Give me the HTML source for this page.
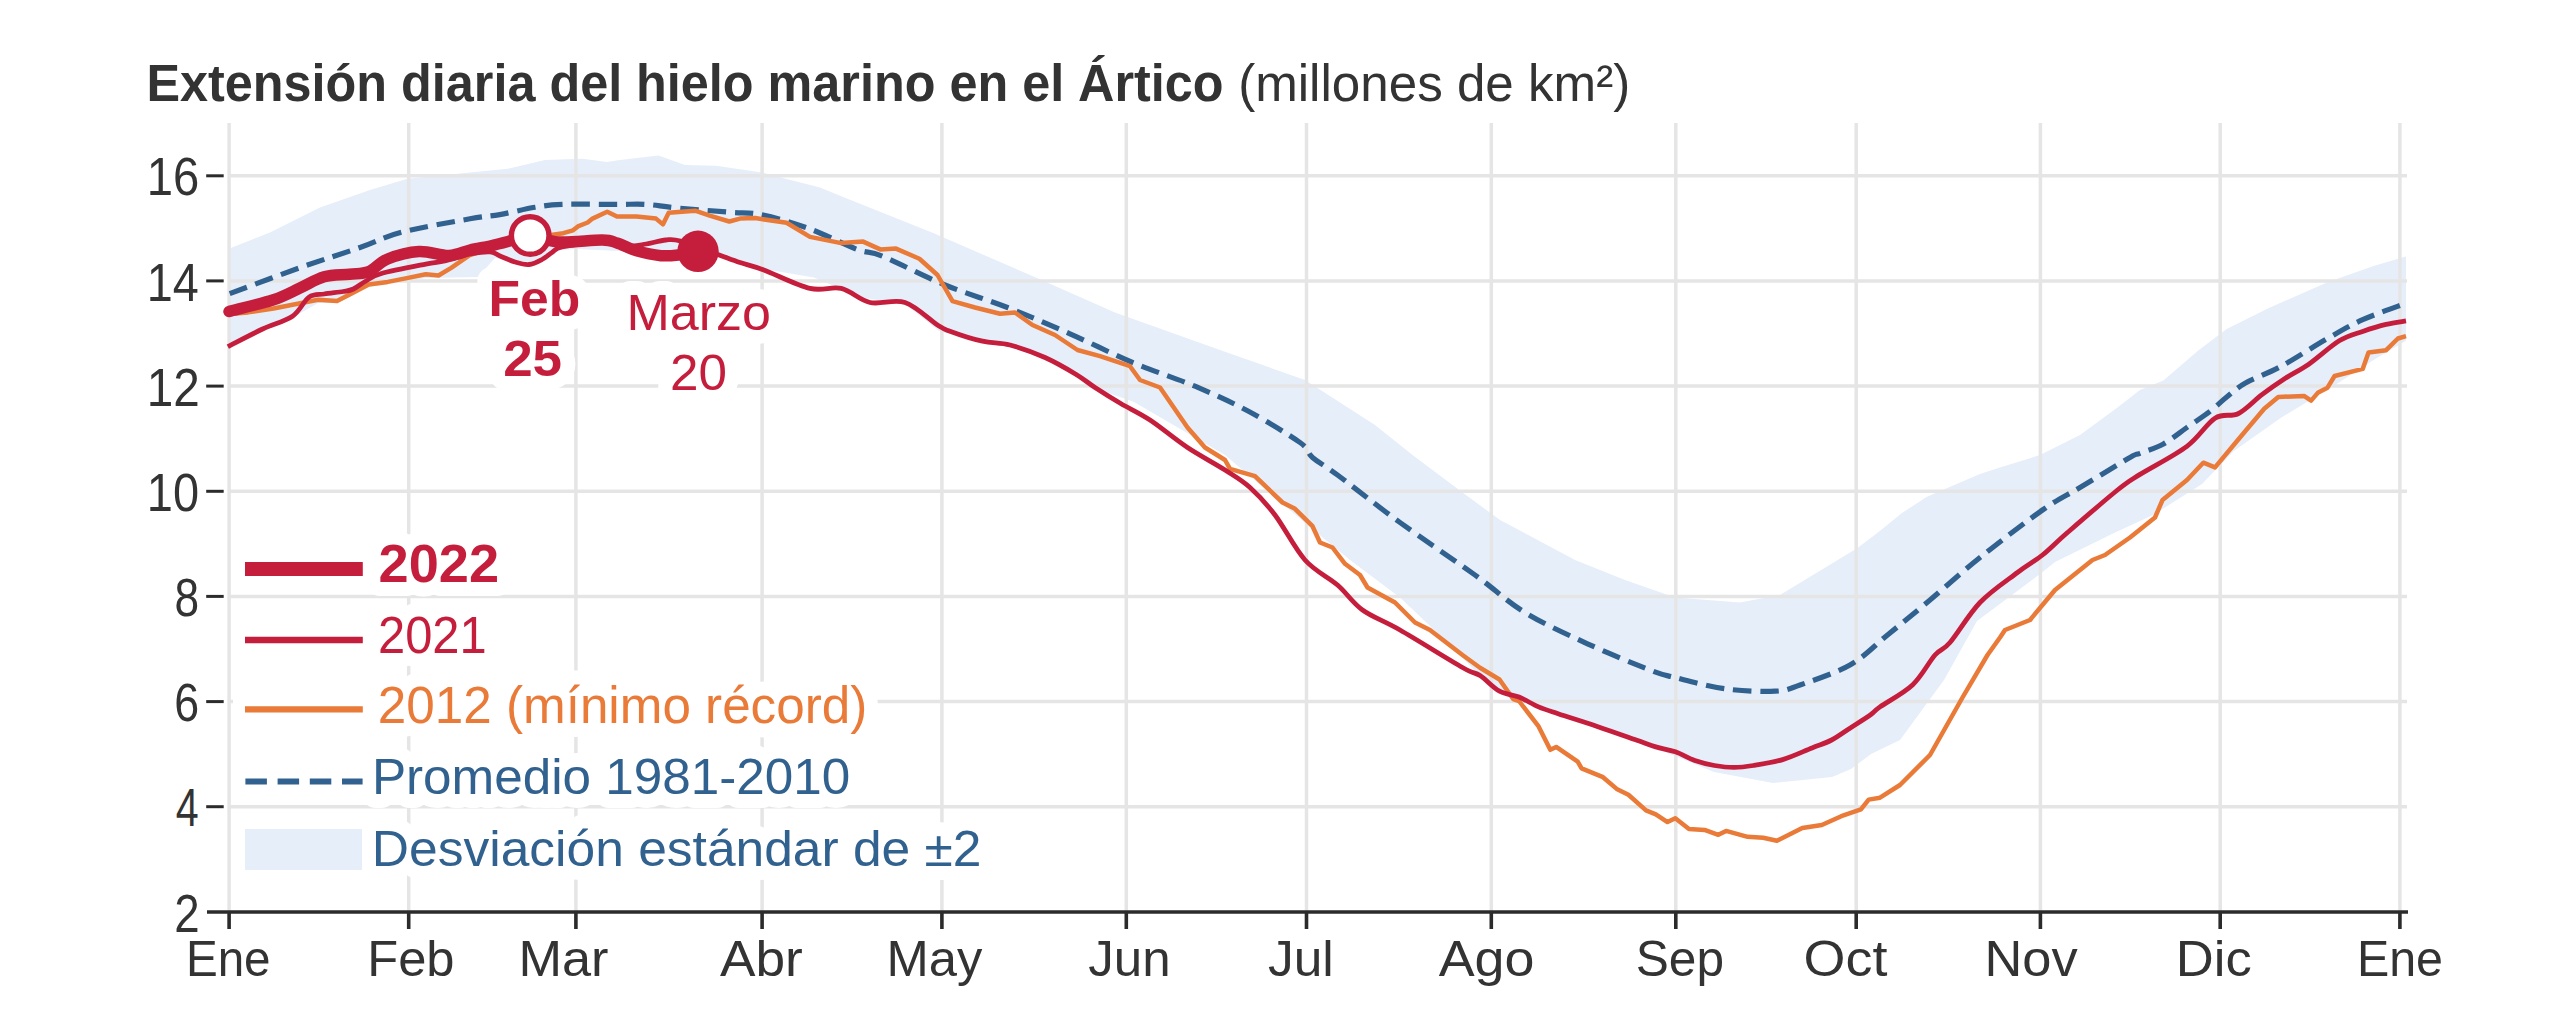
<!DOCTYPE html><html><head><meta charset="utf-8"><style>html,body{margin:0;padding:0;background:#fff;width:2560px;height:1024px;overflow:hidden}svg{display:block}</style></head><body>
<svg width="2560" height="1024" viewBox="0 0 2560 1024" font-family='"Liberation Sans", sans-serif'>
<rect width="2560" height="1024" fill="#fff"/>
<polygon points="229.0,248.8 270.0,232.5 320.0,207.5 370.0,190.0 407.5,178.8 470.0,172.5 507.5,168.8 545.0,160.0 582.5,158.8 606.9,161.9 620.0,160.0 658.4,155.6 685.0,165.0 716.2,165.8 745.0,170.0 763.1,172.8 786.6,179.0 820.0,187.5 841.2,196.2 888.1,215.0 935.0,233.8 1036.9,278.0 1115.0,312.5 1220.0,350.0 1305.0,380.0 1375.0,425.0 1412.5,455.0 1462.5,492.5 1500.0,520.0 1575.0,560.0 1625.0,580.0 1675.0,597.5 1740.0,602.5 1780.0,595.0 1857.5,548.0 1878.6,532.0 1902.0,513.0 1927.0,496.7 1949.0,487.3 1980.0,474.0 2000.0,467.5 2040.0,455.0 2080.0,435.0 2117.5,407.5 2140.0,390.0 2163.4,380.6 2198.6,350.2 2226.7,329.0 2268.9,308.0 2327.5,282.2 2374.4,265.8 2406.0,256.4 2406.0,340.8 2374.4,359.5 2334.6,385.3 2280.6,418.0 2233.8,451.0 2202.0,484.0 2153.0,515.0 2114.0,533.0 2055.0,562.0 2040.0,574.0 1977.0,621.0 1944.0,680.0 1900.0,740.0 1871.0,754.0 1851.0,769.0 1832.0,777.0 1773.0,783.0 1714.0,772.0 1675.0,756.0 1640.0,742.0 1600.0,728.0 1540.0,708.0 1500.0,692.0 1480.0,676.0 1450.0,645.0 1400.0,597.5 1350.0,560.0 1307.5,525.0 1225.0,455.0 1134.0,402.0 1100.0,390.0 1075.0,376.0 1045.0,359.0 1010.0,347.0 982.0,343.0 939.0,331.0 905.0,304.0 865.0,298.0 841.0,289.0 814.0,277.5 762.0,268.8 740.0,262.0 716.0,252.0 680.0,258.0 640.0,252.0 577.0,249.0 560.0,250.0 530.0,262.0 495.0,258.0 478.0,277.0 426.0,278.0 407.0,281.0 388.0,284.0 369.0,287.0 350.0,297.0 337.0,303.0 318.0,303.0 292.0,318.0 229.0,347.0" fill="#e6eef9"/>
<line x1="229" y1="806.7" x2="2407" y2="806.7" stroke="#e5e5e5" stroke-width="3.5"/>
<line x1="229" y1="701.6" x2="2407" y2="701.6" stroke="#e5e5e5" stroke-width="3.5"/>
<line x1="229" y1="596.4" x2="2407" y2="596.4" stroke="#e5e5e5" stroke-width="3.5"/>
<line x1="229" y1="491.3" x2="2407" y2="491.3" stroke="#e5e5e5" stroke-width="3.5"/>
<line x1="229" y1="386.1" x2="2407" y2="386.1" stroke="#e5e5e5" stroke-width="3.5"/>
<line x1="229" y1="280.9" x2="2407" y2="280.9" stroke="#e5e5e5" stroke-width="3.5"/>
<line x1="229" y1="175.8" x2="2407" y2="175.8" stroke="#e5e5e5" stroke-width="3.5"/>
<line x1="229.1" y1="123" x2="229.1" y2="912" stroke="#e5e5e5" stroke-width="3.5"/>
<line x1="408.7" y1="123" x2="408.7" y2="912" stroke="#e5e5e5" stroke-width="3.5"/>
<line x1="575.9" y1="123" x2="575.9" y2="912" stroke="#e5e5e5" stroke-width="3.5"/>
<line x1="762.1" y1="123" x2="762.1" y2="912" stroke="#e5e5e5" stroke-width="3.5"/>
<line x1="941.9" y1="123" x2="941.9" y2="912" stroke="#e5e5e5" stroke-width="3.5"/>
<line x1="1126.3" y1="123" x2="1126.3" y2="912" stroke="#e5e5e5" stroke-width="3.5"/>
<line x1="1306.5" y1="123" x2="1306.5" y2="912" stroke="#e5e5e5" stroke-width="3.5"/>
<line x1="1491.3" y1="123" x2="1491.3" y2="912" stroke="#e5e5e5" stroke-width="3.5"/>
<line x1="1675.8" y1="123" x2="1675.8" y2="912" stroke="#e5e5e5" stroke-width="3.5"/>
<line x1="1856.2" y1="123" x2="1856.2" y2="912" stroke="#e5e5e5" stroke-width="3.5"/>
<line x1="2040.4" y1="123" x2="2040.4" y2="912" stroke="#e5e5e5" stroke-width="3.5"/>
<line x1="2220.2" y1="123" x2="2220.2" y2="912" stroke="#e5e5e5" stroke-width="3.5"/>
<line x1="2399.9" y1="123" x2="2399.9" y2="912" stroke="#e5e5e5" stroke-width="3.5"/>
<text x="488.54" y="315.75" font-size="49.78" font-weight="bold" textLength="91.77" lengthAdjust="spacingAndGlyphs" fill="#fff" stroke="#fff" stroke-width="28" stroke-linejoin="round">Feb</text>
<text x="503.15" y="376.40" font-size="50.00" font-weight="bold" textLength="58.90" lengthAdjust="spacingAndGlyphs" fill="#fff" stroke="#fff" stroke-width="28" stroke-linejoin="round">25</text>
<text x="626.44" y="330.10" font-size="49.78" font-weight="normal" textLength="144.57" lengthAdjust="spacingAndGlyphs" fill="#fff" stroke="#fff" stroke-width="28" stroke-linejoin="round">Marzo</text>
<text x="669.94" y="390.10" font-size="50.00" font-weight="normal" textLength="56.97" lengthAdjust="spacingAndGlyphs" fill="#fff" stroke="#fff" stroke-width="28" stroke-linejoin="round">20</text>
<text x="378.50" y="582.20" font-size="53.14" font-weight="bold" textLength="120.55" lengthAdjust="spacingAndGlyphs" fill="#fff" stroke="#fff" stroke-width="28" stroke-linejoin="round">2022</text>
<text x="377.96" y="652.50" font-size="51.14" font-weight="normal" textLength="108.73" lengthAdjust="spacingAndGlyphs" fill="#fff" stroke="#fff" stroke-width="28" stroke-linejoin="round">2021</text>
<text x="377.84" y="723.20" font-size="51.14" font-weight="normal" textLength="489.46" lengthAdjust="spacingAndGlyphs" fill="#fff" stroke="#fff" stroke-width="28" stroke-linejoin="round">2012 (mínimo récord)</text>
<text x="371.90" y="794.20" font-size="49.86" font-weight="normal" textLength="478.40" lengthAdjust="spacingAndGlyphs" fill="#fff" stroke="#fff" stroke-width="28" stroke-linejoin="round">Promedio 1981-2010</text>
<text x="371.88" y="865.60" font-size="50.00" font-weight="normal" textLength="609.63" lengthAdjust="spacingAndGlyphs" fill="#fff" stroke="#fff" stroke-width="28" stroke-linejoin="round">Desviación estándar de ±2</text>
<line x1="233" y1="569" x2="375" y2="569" stroke="#fff" stroke-width="41.8"/>
<line x1="233" y1="640" x2="375" y2="640" stroke="#fff" stroke-width="34.5"/>
<line x1="233" y1="709.3" x2="375" y2="709.3" stroke="#fff" stroke-width="34.2"/>
<rect x="245" y="829" width="117" height="41" fill="#e6eef9"/>
<line x1="245" y1="569" x2="362.8" y2="569" stroke="#c41e3c" stroke-width="13.8"/>
<line x1="245" y1="640" x2="362.8" y2="640" stroke="#c41e3c" stroke-width="6.5"/>
<line x1="245" y1="709.3" x2="362.8" y2="709.3" stroke="#e97a38" stroke-width="6.2"/>
<line x1="245.4" y1="781.5" x2="362.6" y2="781.5" stroke="#31618f" stroke-width="5.9" stroke-dasharray="21.5 10.7"/>
<line x1="207" y1="912" x2="2408" y2="912" stroke="#2b2b2b" stroke-width="3.4"/>
<line x1="229.1" y1="912" x2="229.1" y2="929" stroke="#2b2b2b" stroke-width="3.6"/>
<line x1="408.7" y1="912" x2="408.7" y2="929" stroke="#2b2b2b" stroke-width="3.6"/>
<line x1="575.9" y1="912" x2="575.9" y2="929" stroke="#2b2b2b" stroke-width="3.6"/>
<line x1="762.1" y1="912" x2="762.1" y2="929" stroke="#2b2b2b" stroke-width="3.6"/>
<line x1="941.9" y1="912" x2="941.9" y2="929" stroke="#2b2b2b" stroke-width="3.6"/>
<line x1="1126.3" y1="912" x2="1126.3" y2="929" stroke="#2b2b2b" stroke-width="3.6"/>
<line x1="1306.5" y1="912" x2="1306.5" y2="929" stroke="#2b2b2b" stroke-width="3.6"/>
<line x1="1491.3" y1="912" x2="1491.3" y2="929" stroke="#2b2b2b" stroke-width="3.6"/>
<line x1="1675.8" y1="912" x2="1675.8" y2="929" stroke="#2b2b2b" stroke-width="3.6"/>
<line x1="1856.2" y1="912" x2="1856.2" y2="929" stroke="#2b2b2b" stroke-width="3.6"/>
<line x1="2040.4" y1="912" x2="2040.4" y2="929" stroke="#2b2b2b" stroke-width="3.6"/>
<line x1="2220.2" y1="912" x2="2220.2" y2="929" stroke="#2b2b2b" stroke-width="3.6"/>
<line x1="2399.9" y1="912" x2="2399.9" y2="929" stroke="#2b2b2b" stroke-width="3.6"/>
<text x="174.21" y="931.60" font-size="54.29" font-weight="normal" textLength="25.43" lengthAdjust="spacingAndGlyphs" fill="#333333">2</text>
<line x1="206.2" y1="806.7" x2="223.7" y2="806.7" stroke="#2b2b2b" stroke-width="3"/>
<text x="175.68" y="826.44" font-size="54.29" font-weight="normal" textLength="22.91" lengthAdjust="spacingAndGlyphs" fill="#333333">4</text>
<line x1="206.2" y1="701.6" x2="223.7" y2="701.6" stroke="#2b2b2b" stroke-width="3"/>
<text x="174.26" y="721.28" font-size="54.29" font-weight="normal" textLength="24.88" lengthAdjust="spacingAndGlyphs" fill="#333333">6</text>
<line x1="206.2" y1="596.4" x2="223.7" y2="596.4" stroke="#2b2b2b" stroke-width="3"/>
<text x="174.51" y="616.12" font-size="54.29" font-weight="normal" textLength="24.61" lengthAdjust="spacingAndGlyphs" fill="#333333">8</text>
<line x1="206.2" y1="491.3" x2="223.7" y2="491.3" stroke="#2b2b2b" stroke-width="3"/>
<text x="146.78" y="510.96" font-size="54.29" font-weight="normal" textLength="52.28" lengthAdjust="spacingAndGlyphs" fill="#333333">10</text>
<line x1="206.2" y1="386.1" x2="223.7" y2="386.1" stroke="#2b2b2b" stroke-width="3"/>
<text x="146.72" y="405.80" font-size="54.29" font-weight="normal" textLength="53.08" lengthAdjust="spacingAndGlyphs" fill="#333333">12</text>
<line x1="206.2" y1="280.9" x2="223.7" y2="280.9" stroke="#2b2b2b" stroke-width="3"/>
<text x="146.79" y="300.64" font-size="54.29" font-weight="normal" textLength="52.02" lengthAdjust="spacingAndGlyphs" fill="#333333">14</text>
<line x1="206.2" y1="175.8" x2="223.7" y2="175.8" stroke="#2b2b2b" stroke-width="3"/>
<text x="146.76" y="195.48" font-size="54.29" font-weight="normal" textLength="52.54" lengthAdjust="spacingAndGlyphs" fill="#333333">16</text>
<text x="185.89" y="975.80" font-size="50.72" font-weight="normal" textLength="84.72" lengthAdjust="spacingAndGlyphs" fill="#333333">Ene</text>
<text x="367.20" y="975.80" font-size="50.72" font-weight="normal" textLength="87.29" lengthAdjust="spacingAndGlyphs" fill="#333333">Feb</text>
<text x="518.42" y="975.80" font-size="50.72" font-weight="normal" textLength="90.09" lengthAdjust="spacingAndGlyphs" fill="#333333">Mar</text>
<text x="719.90" y="975.80" font-size="50.72" font-weight="normal" textLength="82.87" lengthAdjust="spacingAndGlyphs" fill="#333333">Abr</text>
<text x="886.54" y="975.80" font-size="50.72" font-weight="normal" textLength="95.82" lengthAdjust="spacingAndGlyphs" fill="#333333">May</text>
<text x="1088.23" y="975.80" font-size="50.72" font-weight="normal" textLength="82.41" lengthAdjust="spacingAndGlyphs" fill="#333333">Jun</text>
<text x="1267.98" y="975.80" font-size="50.72" font-weight="normal" textLength="65.84" lengthAdjust="spacingAndGlyphs" fill="#333333">Jul</text>
<text x="1438.70" y="975.80" font-size="50.72" font-weight="normal" textLength="95.82" lengthAdjust="spacingAndGlyphs" fill="#333333">Ago</text>
<text x="1635.77" y="975.80" font-size="50.72" font-weight="normal" textLength="88.18" lengthAdjust="spacingAndGlyphs" fill="#333333">Sep</text>
<text x="1803.58" y="975.80" font-size="50.72" font-weight="normal" textLength="83.83" lengthAdjust="spacingAndGlyphs" fill="#333333">Oct</text>
<text x="1984.51" y="975.80" font-size="50.72" font-weight="normal" textLength="93.17" lengthAdjust="spacingAndGlyphs" fill="#333333">Nov</text>
<text x="2175.80" y="975.80" font-size="50.72" font-weight="normal" textLength="75.88" lengthAdjust="spacingAndGlyphs" fill="#333333">Dic</text>
<text x="2356.93" y="975.80" font-size="50.72" font-weight="normal" textLength="86.12" lengthAdjust="spacingAndGlyphs" fill="#333333">Ene</text>
<path d="M229.7,293.6 C241.4,289.3 278.3,275.4 300.0,267.7 C321.7,260.0 343.1,253.4 360.0,247.5 C376.9,241.6 383.3,237.0 401.6,232.2 C419.9,227.4 453.6,221.7 470.0,218.8 C486.4,215.8 489.0,216.5 499.8,214.6 C510.6,212.7 524.5,209.0 534.9,207.3 C545.3,205.6 548.6,204.9 562.3,204.4 C576.0,203.9 603.0,204.4 617.0,204.4 C631.0,204.4 636.5,203.8 646.2,204.4 C656.0,205.0 661.7,206.5 675.5,207.8 C689.3,209.1 714.7,211.0 729.3,212.2 C743.9,213.4 749.6,212.2 763.1,215.0 C776.6,217.8 794.4,223.3 810.0,229.0 C825.6,234.7 844.8,244.9 856.9,249.4 C869.0,253.9 867.8,250.3 882.5,256.2 C897.2,262.2 924.2,276.5 945.0,285.0 C965.8,293.5 986.7,299.4 1007.5,307.5 C1028.3,315.6 1049.2,324.6 1070.0,333.8 C1090.8,342.9 1111.7,353.8 1132.5,362.5 C1153.3,371.2 1175.8,378.2 1195.0,386.2 C1214.2,394.3 1230.5,401.6 1248.0,411.0 C1265.5,420.4 1289.2,434.8 1300.0,442.5 C1310.8,450.2 1306.2,452.1 1312.5,457.5 C1318.8,462.9 1322.9,464.2 1337.5,475.0 C1352.1,485.8 1377.1,505.8 1400.0,522.5 C1422.9,539.2 1454.2,560.0 1475.0,575.0 C1495.8,590.0 1506.2,601.0 1525.0,612.5 C1543.8,624.0 1566.7,634.2 1587.5,643.8 C1608.3,653.3 1635.4,664.4 1650.0,670.0 C1664.6,675.6 1662.5,674.4 1675.0,677.5 C1687.5,680.6 1708.3,686.5 1725.0,688.8 C1741.7,691.0 1762.5,691.9 1775.0,691.2 C1787.5,690.6 1787.5,689.4 1800.0,685.0 C1812.5,680.6 1835.4,673.3 1850.0,665.0 C1864.6,656.7 1874.2,645.8 1887.5,635.0 C1900.8,624.2 1914.6,612.9 1930.0,600.0 C1945.4,587.1 1961.2,572.5 1980.0,557.5 C1998.8,542.5 2025.8,521.7 2042.5,510.0 C2059.2,498.3 2065.4,496.2 2080.0,487.5 C2094.6,478.8 2120.0,463.2 2130.0,457.5 C2140.0,451.8 2134.4,455.6 2140.0,453.3 C2145.6,451.1 2155.6,448.3 2163.4,444.0 C2171.2,439.7 2179.1,433.0 2186.9,427.5 C2194.7,422.0 2203.7,416.2 2210.3,411.1 C2216.9,406.0 2220.8,401.7 2226.7,397.0 C2232.6,392.3 2236.5,388.1 2245.5,383.0 C2254.5,377.9 2266.9,374.0 2280.6,366.6 C2294.3,359.2 2313.8,346.3 2327.5,338.5 C2341.2,330.7 2349.6,325.6 2362.7,319.7 C2375.8,313.8 2398.8,306.0 2406.0,303.3" fill="none" stroke="#31618f" stroke-width="5.2" stroke-dasharray="18.5 8.8"/>
<polyline points="229.0,314.0 248.0,312.4 273.5,308.5 318.0,299.7 337.0,301.0 349.6,294.6 368.7,284.4 387.7,281.9 406.8,278.1 425.8,274.3 438.5,275.5 451.2,267.9 470.0,255.0 500.0,245.0 530.0,238.0 563.2,233.2 573.0,230.3 577.9,226.4 587.7,222.5 592.5,218.6 607.2,211.7 617.0,216.6 636.5,216.6 656.0,218.6 662.9,224.4 668.7,212.7 695.1,210.7 709.7,215.6 729.3,221.5 740.0,218.6 755.3,218.1 786.6,222.8 810.0,236.9 841.2,243.1 863.1,241.6 880.3,249.4 896.0,248.6 919.4,258.8 937.5,275.0 952.5,301.2 975.0,307.5 1000.0,313.8 1015.0,312.5 1032.5,325.0 1055.0,335.0 1077.5,350.0 1100.0,356.2 1130.0,366.2 1140.0,380.0 1160.0,387.5 1187.5,427.5 1205.0,447.5 1225.0,460.0 1230.0,468.8 1255.0,476.2 1282.5,502.5 1295.0,508.8 1312.5,526.2 1320.0,542.5 1332.5,547.5 1345.0,563.8 1360.0,575.0 1367.5,587.5 1395.0,602.5 1415.0,622.5 1430.0,630.0 1462.5,655.0 1480.0,667.8 1499.5,679.5 1513.2,699.0 1519.0,701.0 1538.6,726.4 1550.3,749.8 1556.2,746.9 1577.7,761.6 1581.6,768.4 1603.0,777.2 1616.7,788.9 1628.4,794.8 1646.0,810.4 1655.8,814.3 1667.5,822.1 1675.3,818.2 1689.0,829.0 1704.6,829.9 1718.3,834.8 1726.1,830.9 1747.6,836.8 1763.2,837.7 1776.9,840.7 1802.3,828.0 1821.8,825.0 1841.3,816.2 1860.9,809.4 1868.7,799.6 1880.0,797.7 1900.0,785.0 1930.0,755.0 1962.5,697.5 1987.5,655.0 2000.0,637.5 2005.0,630.0 2030.0,620.0 2055.0,590.0 2092.5,560.0 2105.0,555.0 2130.0,537.5 2155.0,517.5 2162.5,500.0 2187.0,480.0 2203.3,462.7 2215.0,467.4 2238.5,439.2 2264.2,408.8 2278.3,397.0 2304.0,395.9 2311.1,400.6 2318.2,392.4 2327.5,387.7 2334.6,376.0 2362.7,368.9 2368.5,352.5 2386.1,350.2 2397.9,338.5 2406.0,336.1" fill="none" stroke="#e97a38" stroke-width="4.5" stroke-linejoin="round"/>
<path d="M227.8,346.6 C233.6,343.7 251.8,334.1 262.6,329.0 C273.4,323.9 284.8,321.5 292.5,316.2 C300.2,310.9 303.7,300.8 309.0,297.1 C314.3,293.4 318.5,294.9 324.2,294.0 C329.9,293.1 338.4,292.3 343.3,291.5 C348.2,290.7 349.6,290.8 353.4,289.0 C357.2,287.2 361.3,283.6 366.0,281.0 C370.7,278.4 371.4,276.3 381.4,273.5 C391.4,270.7 415.2,266.2 425.8,264.1 C436.4,262.0 437.4,262.7 444.8,261.0 C452.2,259.3 462.5,255.5 470.0,254.0 C477.5,252.5 485.0,251.5 490.0,251.8 C495.0,252.1 495.8,254.3 500.0,256.0 C504.2,257.7 510.2,260.6 515.0,262.0 C519.8,263.4 524.5,264.9 529.0,264.5 C533.5,264.1 538.2,261.5 542.0,259.5 C545.8,257.5 548.7,254.6 552.0,252.5 C555.3,250.4 554.0,248.8 562.0,247.0 C570.0,245.2 588.7,242.2 600.0,242.0 C611.3,241.8 622.3,245.7 630.0,246.0 C637.7,246.3 640.3,245.0 646.2,244.0 C652.2,243.0 660.1,240.5 665.8,240.0 C671.5,239.5 671.6,238.6 680.4,241.0 C689.2,243.4 708.6,251.1 718.5,254.7 C728.4,258.3 732.6,260.0 740.0,262.5 C747.4,265.0 751.4,265.4 763.1,269.7 C774.8,274.0 797.0,285.3 810.0,288.4 C823.0,291.5 831.2,286.0 841.2,288.4 C851.2,290.8 859.4,300.1 870.0,302.5 C880.6,304.9 893.8,298.8 905.0,302.5 C916.2,306.2 930.0,320.2 937.5,325.0 C945.0,329.8 942.5,328.5 950.0,331.2 C957.5,334.0 972.5,339.0 982.5,341.2 C992.5,343.5 999.6,342.3 1010.0,345.0 C1020.4,347.7 1034.0,352.6 1045.0,357.5 C1056.0,362.4 1067.5,369.2 1075.8,374.2 C1084.1,379.2 1087.5,382.6 1095.0,387.5 C1102.5,392.4 1111.5,398.1 1120.7,403.5 C1129.9,408.9 1138.9,412.7 1150.0,420.0 C1161.1,427.3 1175.0,439.2 1187.5,447.5 C1200.0,455.8 1214.6,463.3 1225.0,470.0 C1235.4,476.7 1241.7,480.0 1250.0,487.5 C1258.3,495.0 1265.8,502.9 1275.0,515.0 C1284.2,527.1 1294.6,548.3 1305.0,560.0 C1315.4,571.7 1327.9,576.7 1337.5,585.0 C1347.1,593.3 1352.1,602.5 1362.5,610.0 C1372.9,617.5 1383.3,620.4 1400.0,630.0 C1416.7,639.6 1449.2,659.9 1462.5,667.5 C1475.8,675.1 1473.8,671.6 1480.0,675.6 C1486.2,679.6 1493.0,687.7 1499.5,691.2 C1506.0,694.8 1512.5,694.5 1519.0,697.1 C1525.5,699.7 1532.1,704.1 1538.6,706.9 C1545.1,709.7 1548.3,710.5 1558.1,713.7 C1567.9,717.0 1584.2,722.0 1597.2,726.4 C1610.2,730.8 1626.5,736.6 1636.2,740.0 C1646.0,743.4 1649.3,744.9 1655.8,746.9 C1662.3,748.9 1668.8,749.5 1675.3,751.8 C1681.8,754.1 1688.3,758.3 1694.8,760.6 C1701.3,762.9 1707.9,764.4 1714.4,765.5 C1720.9,766.6 1727.4,767.4 1733.9,767.4 C1740.4,767.4 1745.3,766.8 1753.4,765.5 C1761.5,764.2 1772.9,762.5 1782.7,759.6 C1792.5,756.7 1803.8,751.2 1812.0,747.9 C1820.2,744.6 1825.1,743.4 1831.6,740.0 C1838.1,736.6 1844.6,731.6 1851.1,727.4 C1857.6,723.2 1865.8,718.1 1870.6,714.7 C1875.4,711.3 1873.0,711.9 1880.0,706.9 C1887.0,701.9 1903.3,693.6 1912.5,685.0 C1921.7,676.4 1928.8,662.1 1935.0,655.0 C1941.2,647.9 1942.5,651.2 1950.0,642.5 C1957.5,633.8 1968.8,614.2 1980.0,602.5 C1991.2,590.8 2007.1,580.4 2017.5,572.5 C2027.9,564.6 2034.2,561.7 2042.5,555.0 C2050.8,548.3 2055.0,543.3 2067.5,532.5 C2080.0,521.7 2105.4,499.7 2117.5,490.0 C2129.6,480.3 2128.4,481.7 2140.0,474.4 C2151.6,467.1 2174.4,455.7 2186.9,446.3 C2199.4,436.9 2206.4,423.7 2215.0,418.2 C2223.6,412.7 2230.7,417.4 2238.5,413.5 C2246.3,409.6 2254.1,400.6 2261.9,394.7 C2269.7,388.8 2277.5,383.4 2285.3,378.3 C2293.1,373.2 2299.8,370.4 2308.8,364.2 C2317.8,357.9 2330.3,346.3 2339.2,340.8 C2348.2,335.3 2354.9,334.1 2362.7,331.4 C2370.5,328.7 2378.9,326.1 2386.1,324.4 C2393.3,322.6 2402.7,321.5 2406.0,320.9" fill="none" stroke="#c41e3c" stroke-width="4.8" stroke-linejoin="round"/>
<path d="M229.0,311.5 C236.4,309.5 261.7,303.6 273.5,299.7 C285.3,295.8 291.6,291.8 300.0,288.0 C308.4,284.2 315.9,279.1 324.2,276.8 C332.5,274.5 342.2,275.2 349.6,274.3 C357.0,273.4 362.4,274.2 368.7,271.7 C375.0,269.1 379.3,262.4 387.7,259.0 C396.1,255.6 408.8,252.1 419.0,251.5 C429.2,250.9 440.5,255.8 449.0,255.5 C457.5,255.2 463.2,251.6 470.0,250.0 C476.8,248.4 483.7,247.4 490.0,246.0 C496.3,244.6 501.3,243.3 508.0,241.5 C514.7,239.7 521.8,235.1 530.2,235.2 C538.6,235.3 546.4,241.2 558.4,242.0 C570.4,242.8 592.5,239.8 602.3,240.0 C612.1,240.2 611.3,241.2 617.0,243.0 C622.7,244.8 629.2,248.7 636.5,250.8 C643.8,252.9 653.6,255.0 660.9,255.7 C668.2,256.3 674.2,255.4 680.4,254.7 C686.6,254.0 695.1,251.9 698.0,251.3" fill="none" stroke="#c41e3c" stroke-width="11.5" stroke-linejoin="round" stroke-linecap="round"/>
<circle cx="530.2" cy="235.5" r="18.8" fill="#fff" stroke="#c41e3c" stroke-width="5.4"/>
<circle cx="698" cy="251.3" r="20.7" fill="#c41e3c"/>
<text x="488.54" y="315.75" font-size="49.78" font-weight="bold" textLength="91.77" lengthAdjust="spacingAndGlyphs" fill="#c41e3c">Feb</text>
<text x="503.15" y="376.40" font-size="50.00" font-weight="bold" textLength="58.90" lengthAdjust="spacingAndGlyphs" fill="#c41e3c">25</text>
<text x="626.44" y="330.10" font-size="49.78" font-weight="normal" textLength="144.57" lengthAdjust="spacingAndGlyphs" fill="#c41e3c">Marzo</text>
<text x="669.94" y="390.10" font-size="50.00" font-weight="normal" textLength="56.97" lengthAdjust="spacingAndGlyphs" fill="#c41e3c">20</text>
<text x="378.50" y="582.20" font-size="53.14" font-weight="bold" textLength="120.55" lengthAdjust="spacingAndGlyphs" fill="#c41e3c">2022</text>
<text x="377.96" y="652.50" font-size="51.14" font-weight="normal" textLength="108.73" lengthAdjust="spacingAndGlyphs" fill="#c41e3c">2021</text>
<text x="377.84" y="723.20" font-size="51.14" font-weight="normal" textLength="489.46" lengthAdjust="spacingAndGlyphs" fill="#e97a38">2012 (mínimo récord)</text>
<text x="371.90" y="794.20" font-size="49.86" font-weight="normal" textLength="478.40" lengthAdjust="spacingAndGlyphs" fill="#31618f">Promedio 1981-2010</text>
<text x="371.88" y="865.60" font-size="50.00" font-weight="normal" textLength="609.63" lengthAdjust="spacingAndGlyphs" fill="#31618f">Desviación estándar de ±2</text>
<text x="146.53" y="101.20" font-size="51.01" font-weight="bold" textLength="1077.05" lengthAdjust="spacingAndGlyphs" fill="#333333">Extensión diaria del hielo marino en el Ártico</text>
<text x="1238.13" y="100.80" font-size="51.03" font-weight="normal" textLength="392.10" lengthAdjust="spacingAndGlyphs" fill="#333333">(millones de km²)</text>
</svg></body></html>
